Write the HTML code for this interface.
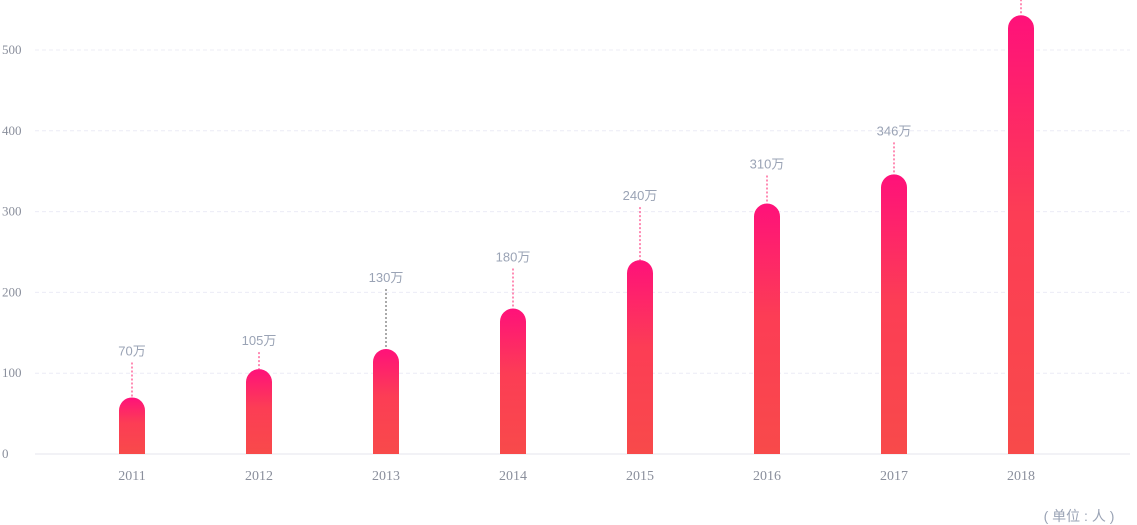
<!DOCTYPE html>
<html><head><meta charset="utf-8">
<style>
html,body{margin:0;padding:0;background:#fff;}
svg{display:block;}
</style></head>
<body>
<svg id="chart" width="1137" height="525" viewBox="0 0 1137 525" xmlns="http://www.w3.org/2000/svg">
<defs>
<linearGradient id="bg" x1="0" y1="0" x2="0" y2="1">
<stop offset="0" stop-color="#ff117a"/>
<stop offset="0.45" stop-color="#fc3d55"/>
<stop offset="1" stop-color="#f84a4a"/>
</linearGradient>
</defs>
<g id="grid"></g>
<g id="yaxis"></g>
<g id="xaxis"></g>
<g id="bars"></g>
<g id="labels"></g>
<text x="1079" y="521" text-anchor="middle" font-family="'Liberation Sans','Noto Sans CJK SC',sans-serif" font-size="14" fill="#9aa3b5">( 单位 : 人 )</text>
</svg>
<script>
const categories = ["2011","2012","2013","2014","2015","2016","2017","2018"];
const values = [70,105,130,180,240,310,346,543];
const valueLabels = ["70万","105万","130万","180万","240万","310万","346万","543万"];
const yTicks = [0,100,200,300,400,500];
const labelLift = [38,20,63,43,56,31,35,23];

const NS="http://www.w3.org/2000/svg";
const y0=454, pxPer=0.808;
function yScale(v){return y0 - v*pxPer;}
function xScale(i){return 132 + i*127;}
function mk(t,a,p){const e=document.createElementNS(NS,t);for(const k in a)e.setAttribute(k,a[k]);p.appendChild(e);return e;}
const grid=document.getElementById('grid'),yax=document.getElementById('yaxis'),xax=document.getElementById('xaxis'),bars=document.getElementById('bars'),labels=document.getElementById('labels');
yTicks.forEach(t=>{
  const l=mk('line',{x1:35,x2:1130,y1:yScale(t),y2:yScale(t),stroke:t===0?'#e4e4ee':'#ececf6','stroke-dasharray':t===0?'':'4,3','stroke-width':1},grid);
  
  
  const tx=mk('text',{x:2,y:yScale(t)+4,'font-family':"'Liberation Serif',serif",'font-size':13,fill:'#8a8f9c'},yax);
  tx.textContent=t;
  
  
});
const w=26;
categories.forEach((c,i)=>{
  const cx=xScale(i), top=yScale(values[i]);
  const tx=mk('text',{x:cx,y:480,'text-anchor':'middle','font-family':"'Liberation Serif',serif",'font-size':14,fill:'#8a8f9c'},xax);
  tx.textContent=c;
  
  
  const p=mk('path',{d:`M${cx-w/2},${y0} L${cx-w/2},${top+w/2} A${w/2},${w/2} 0 0 1 ${cx+w/2},${top+w/2} L${cx+w/2},${y0} Z`,fill:'url(#bg)'},bars);
  
  
  const ly=top-labelLift[i];
  const dl=mk('line',{x1:cx,x2:cx,y1:ly+3,y2:top,stroke:i===2?'#555':'#ff1a6a','stroke-dasharray':'2,2','stroke-width':1},labels);
  
  
  const lt=mk('text',{x:cx,y:ly-4,'text-anchor':'middle','font-family':"'Liberation Sans','Noto Sans CJK SC',sans-serif",'font-size':13,fill:'#9aa3b5'},labels);
  lt.textContent=valueLabels[i];
  
  
});
</script>
</body></html>
